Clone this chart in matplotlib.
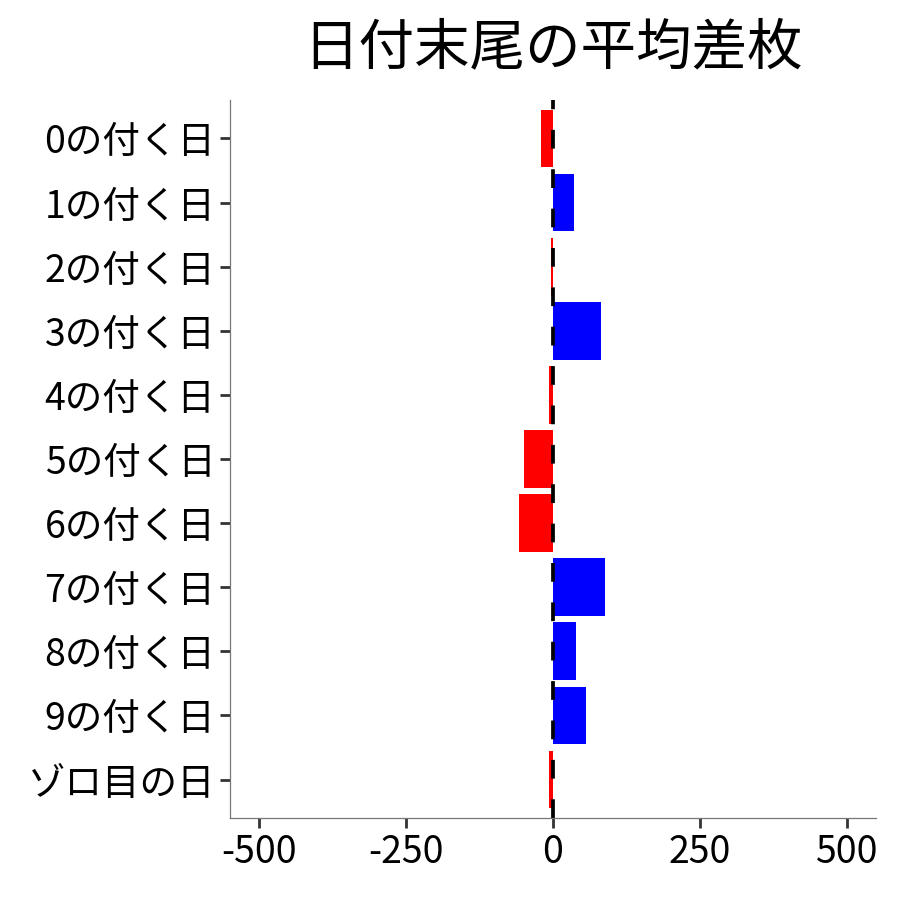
import numpy as np
import matplotlib.pyplot as plt

plt.rcParams['font.family'] = ['Noto Sans CJK JP', 'DejaVu Sans']

labels = ['0の付く日', '1の付く日', '2の付く日', '3の付く日', '4の付く日',
          '5の付く日', '6の付く日', '7の付く日', '8の付く日', '9の付く日', 'ゾロ目の日']
diff = [-21, 35, -4, 81, -7, -50, -58, 88, 39, 57, -7]
xticks = [-500, -250, 0, 250, 500]

colors = ['#0000FF' if v > 0 else '#FF0000' for v in diff]
ypos = np.arange(len(labels))[::-1]

fig = plt.figure(figsize=(9, 9), dpi=100)
ax = fig.add_axes([0.2556, 0.0911, 0.7177, 0.7978])

ax.barh(ypos, diff, height=0.9, color=colors)
ax.axvline(0, color='black', lw=2.7, linestyle=(0, (5, 5.5)))

ax.set_xlim(-550, 550)
ax.set_ylim(-0.6, len(labels) - 1 + 0.6)
ax.set_yticks(ypos)
ax.set_yticklabels(labels)
ax.set_xticks(xticks)
ax.set_xticklabels([str(t) for t in xticks])

for s in ['top', 'right']:
    ax.spines[s].set_visible(False)
for s in ['left', 'bottom']:
    ax.spines[s].set_color('#777777')
    ax.spines[s].set_linewidth(0.9)

ax.tick_params(axis='both', length=7.5, width=2, color='#333333',
               labelsize=27, labelcolor='black', pad=3)

ax.set_title('日付末尾の平均差枚', fontsize=40, pad=26)

fig.savefig('out.png', dpi=100)
